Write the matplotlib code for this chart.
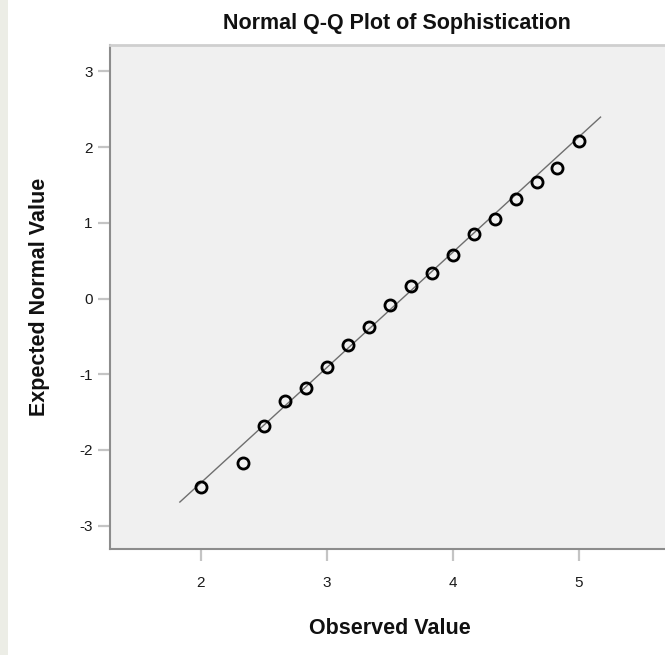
import matplotlib

matplotlib.use("Agg")
import matplotlib.pyplot as plt
from matplotlib.patches import Rectangle

plt.rcParams["axes.unicode_minus"] = False

# observed scores and their expected normal quantiles
observed = [2.0, 2.333, 2.5, 2.667, 2.833, 3.0, 3.167, 3.333, 3.5,
            3.667, 3.833, 4.0, 4.167, 4.333, 4.5, 4.667, 4.833, 5.0]
expected = [-2.49, -2.17, -1.68, -1.35, -1.18, -0.90, -0.62, -0.37, -0.09,
            0.16, 0.34, 0.57, 0.85, 1.05, 1.32, 1.54, 1.72, 2.08]

# reference line: z = (x - mean) / sd
ref_mean = 3.60
ref_sd = 0.657
ref_x = [1.833, 5.175]

x_ticks = [2, 3, 4, 5]
y_ticks = [-3, -2, -1, 0, 1, 2, 3]

BG = "#F0F0F0"
SPINE = "#8C8C8C"

narrow = ["Liberation Sans Narrow", "Liberation Sans", "DejaVu Sans"]
regular = ["Liberation Sans", "DejaVu Sans"]

fig = plt.figure(figsize=(6.65, 6.55), dpi=100)
fig.patch.set_facecolor("white")

# faint strip down the left edge
fig.patches.append(Rectangle((0, 0), 8 / 665, 1, transform=fig.transFigure,
                             facecolor="#ECEDE6", edgecolor="none", zorder=0))

ax = fig.add_axes([110 / 665, 106 / 655, 1.0 - 110 / 665 + 0.01, 504 / 655])
ax.set_facecolor(BG)
ax.set_xlim(1.278, 5.74)
ax.set_ylim(-3.31, 3.35)

ref_y = [(v - ref_mean) / ref_sd for v in ref_x]
ax.plot(ref_x, ref_y, color="#6E6E6E", linewidth=1.0, zorder=2)
ax.plot(observed, expected, linestyle="none", marker="o", markersize=8,
        markerfacecolor="none", markeredgecolor="black",
        markeredgewidth=2.0, zorder=3)

for side in ("left", "bottom"):
    ax.spines[side].set_color(SPINE)
    ax.spines[side].set_linewidth(1.5)
ax.spines["top"].set_color("#CFCFCF")
ax.spines["top"].set_linewidth(2.0)
ax.spines["right"].set_visible(False)

ax.set_xticks(x_ticks)
ax.set_yticks(y_ticks)
ax.tick_params(axis="both", direction="out", length=8.5, width=1.6,
               colors="#C4C4C4", labelcolor="#1A1A1A", labelsize=11)
ax.tick_params(axis="x", pad=11)
ax.tick_params(axis="y", pad=4)
for lbl in ax.get_xticklabels() + ax.get_yticklabels():
    lbl.set_family(regular)

fig.text(397 / 665, 1 - 24 / 655, "Normal Q-Q Plot of Sophistication",
         ha="center", va="center", fontsize=15.5, fontweight="bold",
         family=narrow, color="#111111")
fig.text(390 / 665, 1 - 629 / 655, "Observed Value",
         ha="center", va="center", fontsize=15.5, fontweight="bold",
         family=narrow, color="#111111")
fig.text(40 / 665, 1 - 297 / 655, "Expected Normal Value",
         ha="center", va="center", rotation=90, fontsize=15.5,
         fontweight="bold", family=narrow, color="#111111")

fig.savefig("out.png", dpi=100, facecolor="white")
